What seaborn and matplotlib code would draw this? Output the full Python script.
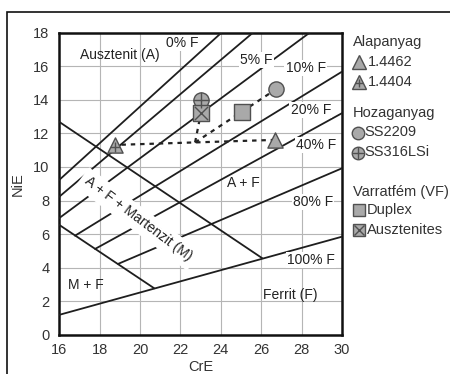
import numpy as np
import pandas as pd
import matplotlib
matplotlib.use("Agg")
import matplotlib.pyplot as plt
from matplotlib.lines import Line2D
from matplotlib.patches import Rectangle
import seaborn as sns

# ---- data -------------------------------------------------------------
ferrite_labels = ["0% F", "5% F", "10% F", "20% F", "40% F", "80% F", "100% F"]
fer_x0 = [16.0, 16.0, 16.0, 16.78, 17.77, 18.91, 16.0]
fer_y0 = [9.23, 8.23, 6.96, 5.91, 5.12, 4.23, 1.20]
fer_x1 = [24.04, 25.6, 28.41, 30.0, 30.0, 30.0, 30.0]
fer_y1 = [18.0, 18.0, 18.0, 15.67, 13.2, 9.92, 5.85]

mart_names = ["upper", "lower"]
mart_x0 = [16.0, 16.0]
mart_y0 = [12.68, 6.55]
mart_x1 = [26.05, 20.7]
mart_y1 = [4.57, 2.78]

label_x = [22.08, 25.77, 28.2, 28.45, 28.7, 28.57, 28.46]
label_y = [17.36, 16.37, 15.87, 13.39, 11.31, 7.93, 4.46]

region_names = ["Ausztenit (A)", "A + F", "M + F", "Ferrit (F)"]
region_x = [19.0, 25.14, 17.31, 27.46]
region_y = [16.67, 9.03, 2.98, 2.38]

base_names = ["1.4462", "1.4404"]
base_cre = [26.69, 18.76]
base_nie = [11.61, 11.31]

filler_names = ["SS2209", "SS316LSi"]
filler_cre = [26.73, 23.01]
filler_nie = [14.62, 13.99]

weld_names = ["Duplex", "Ausztenites"]
weld_cre = [25.06, 23.01]
weld_nie = [13.29, 13.20]

xticks = list(range(16, 31, 2))
yticks = list(range(0, 19, 2))

# ---- style ------------------------------------------------------------
sns.set_theme(style="whitegrid")
plt.rcParams["font.family"] = ["Liberation Sans", "DejaVu Sans"]
plt.rcParams["font.size"] = 10

W, H = 450, 374
fig = plt.figure(figsize=(W / 100, H / 100), dpi=100)
ax = fig.add_axes([59.3 / W, 1 - 335 / H, (342 - 59.3) / W, (335 - 32.5) / H])
ax.set_facecolor("white")

line_col = "#1e1e1e"
rows = []
for i, name in enumerate(ferrite_labels):
    rows.append((name, fer_x0[i], fer_y0[i]))
    rows.append((name, fer_x1[i], fer_y1[i]))
for i, name in enumerate(mart_names):
    rows.append((name, mart_x0[i], mart_y0[i]))
    rows.append((name, mart_x1[i], mart_y1[i]))
lines_df = pd.DataFrame(rows, columns=["seg", "CrE", "NiE"])
sns.lineplot(data=lines_df, x="CrE", y="NiE", units="seg", estimator=None,
             sort=False, color=line_col, lw=1.3, ax=ax, zorder=3, legend=False)

# labels
for i, name in enumerate(ferrite_labels):
    ax.text(label_x[i], label_y[i], name, ha="center", va="center", fontsize=10,
            color="#222", zorder=4,
            bbox=dict(boxstyle="square,pad=0.08", fc="white", ec="none"))
for i, name in enumerate(region_names):
    ax.text(region_x[i], region_y[i], name, ha="center", va="center",
            fontsize=10, color="#222", zorder=4)

ax.text(19.9, 6.9, "A + F + Martenzit (M)", ha="center", va="center",
        rotation=-37, rotation_mode="anchor", fontsize=10, color="#222", zorder=4,
        bbox=dict(boxstyle="square,pad=0.35", fc="white", ec="none"))

# dotted construction lines
mid_x = float(np.mean(base_cre))
mid_y = float(np.mean(base_nie))
dot = dict(color="#222", lw=1.6, ls=(0, (2.0, 2.2)), zorder=5)
ax.plot(base_cre, base_nie, **dot)
ax.plot([mid_x, filler_cre[0]], [mid_y, filler_nie[0]], **dot)
ax.plot([mid_x, weld_cre[1]], [mid_y, weld_nie[1]], **dot)

# markers
fill = "#a9a9a9"
edge = "#505050"
mk = dict(s=120, color=fill, edgecolor=edge, linewidth=1.0, zorder=6, ax=ax, legend=False)
sns.scatterplot(x=[base_cre[0]], y=[base_nie[0]], marker="^", **mk)
sns.scatterplot(x=[base_cre[1]], y=[base_nie[1]], marker="^", **mk)
ax.scatter([base_cre[1]], [base_nie[1] - 0.1], marker="+", s=45, color=edge, lw=1.0, zorder=7)
sns.scatterplot(x=[filler_cre[0]], y=[filler_nie[0]], marker="o", **mk)
sns.scatterplot(x=[filler_cre[1]], y=[filler_nie[1]], marker="o", **mk)
ax.scatter([filler_cre[1]], [filler_nie[1]], marker="+", s=120, color=edge, lw=1.0, zorder=7)
sns.scatterplot(x=[weld_cre[0]], y=[weld_nie[0]], marker="s", **mk)
sns.scatterplot(x=[weld_cre[1]], y=[weld_nie[1]], marker="s", **mk)
ax.scatter([weld_cre[1]], [weld_nie[1]], marker="x", s=90, color=edge, lw=1.0, zorder=7)

# axes
ax.set_xlim(16, 30)
ax.set_ylim(0, 18)
ax.set_xticks(xticks)
ax.set_yticks(yticks)
ax.grid(True, color="#b5b5b5", lw=0.8)
ax.tick_params(length=0, labelsize=10.5, colors="#333")
ax.tick_params(axis="y", pad=7)
ax.tick_params(axis="x", pad=6)
for sp in ax.spines.values():
    sp.set_visible(True)
    sp.set_color("#111")
    sp.set_linewidth(1.8)
ax.set_xlabel("CrE", fontsize=10.5, color="#333", labelpad=2)
ax.set_ylabel("NiE", fontsize=10.5, color="#333", labelpad=6)

# legend (manual, figure coordinates in pixels)
def fx(px):
    return px / W

def fy(py):
    return 1 - py / H

def head(py, txt):
    fig.text(fx(353), fy(py), txt, ha="left", va="center", fontsize=10.5, color="#333")

def item(py, px_text, txt):
    fig.text(fx(px_text), fy(py), txt, ha="left", va="center", fontsize=10.5, color="#333")

def mark(px, py, marker, ms, **kw):
    fig.add_artist(Line2D([fx(px)], [fy(py)], marker=marker, ms=ms,
                          transform=fig.transFigure, ls="none", **kw))

lm = dict(mfc=fill, mec=edge, mew=1.0)
head(41.7, "Alapanyag")
mark(359, 61.7, "^", 9.5, **lm); item(61.7, 368, "1.4462")
mark(359, 81.7, "^", 9.5, **lm); mark(359, 83, "+", 5.5, color=edge, mew=1.0)
item(81.7, 368, "1.4404")
head(113.3, "Hozaganyag")
mark(358, 132.5, "o", 9, **lm); item(132.5, 364.5, "SS2209")
mark(358, 152.5, "o", 9, **lm); mark(358, 152.5, "+", 9, color=edge, mew=1.0)
item(152.5, 364.5, "SS316LSi")
head(191.7, "Varratfém (VF)")
mark(359, 210, "s", 8.5, **lm); item(210, 367, "Duplex")
mark(359, 229.5, "s", 8.5, **lm); mark(359, 229.5, "x", 7.5, color=edge, mew=1.0)
item(229.5, 367, "Ausztenites")

# outer frame
fig.add_artist(Rectangle((fx(7), -0.2), 1.2, fy(12) + 0.2, transform=fig.transFigure,
                         fill=False, ec="#111", lw=1.2, clip_on=False))

fig.savefig("out.png", dpi=100)
